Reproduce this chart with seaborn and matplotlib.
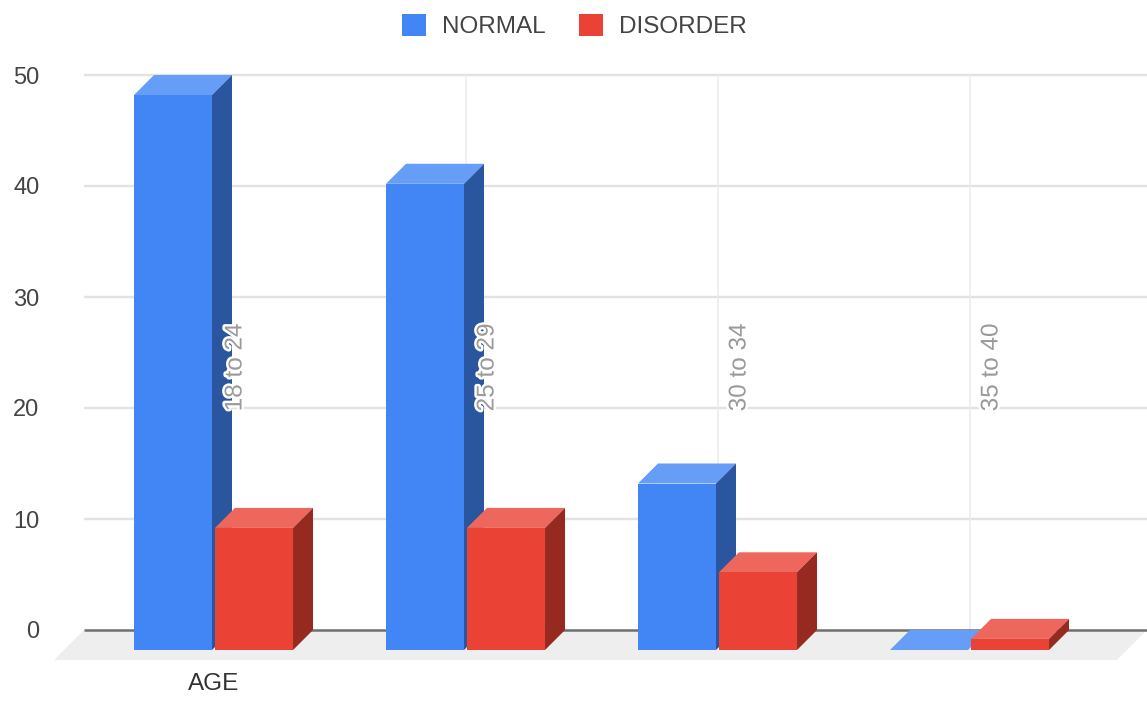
import matplotlib
matplotlib.use("Agg")
import matplotlib.pyplot as plt
import matplotlib.patheffects as pe
from matplotlib.patches import Polygon
import pandas as pd
import seaborn as sns

age_groups = ["18 to 24", "25 to 29", "30 to 34", "35 to 40"]
normal = [50, 42, 15, 0]
disorder = [11, 11, 7, 1]

W, H = 1147, 702
AX_LEFT, AX_TOP, AX_BOTTOM = 84, 75, 665
ZERO_Y = 630
UNIT_PX = (ZERO_Y - AX_TOP) / 50
CAT_PX = 252
CENTER0_PX = 213.5
DEPTH_PX = 20

DEPTH_X = DEPTH_PX / CAT_PX
DEPTH_Y = DEPTH_PX / UNIT_PX

COLORS = {"NORMAL": "#4285f4", "DISORDER": "#ea4335"}
TOPS = {"NORMAL": "#669df6", "DISORDER": "#ee675c"}
SIDES = {"NORMAL": "#2a56a0", "DISORDER": "#962a20"}

df = pd.DataFrame({
    "age": age_groups * 2,
    "count": normal + disorder,
    "group": ["NORMAL"] * len(normal) + ["DISORDER"] * len(disorder),
})

sns.set_theme(style="white")
plt.rcParams["font.family"] = ["Liberation Sans", "DejaVu Sans"]

fig = plt.figure(figsize=(W / 100, H / 100), dpi=100)
ax = fig.add_axes([AX_LEFT / W, (H - AX_BOTTOM) / H,
                   (W - AX_LEFT) / W, (AX_BOTTOM - AX_TOP) / H])

sns.barplot(data=df, x="age", y="count", hue="group", palette=COLORS,
            hue_order=["NORMAL", "DISORDER"], order=age_groups,
            width=0.643, gap=0.037, saturation=1, linewidth=0, ax=ax)

ax.set_xlim((AX_LEFT - CENTER0_PX) / CAT_PX, (W - CENTER0_PX) / CAT_PX)
ax.set_ylim(-(AX_BOTTOM - ZERO_Y) / UNIT_PX, 50)
ax.set_xlabel("")
ax.set_ylabel("")
sns.despine(ax=ax, left=True, bottom=True)

# top and side faces extruded from each front face;
# front faces sit one depth step below the back plane
n = len(age_groups)
bars = list(ax.patches)[:2 * n]
for i, patch in enumerate(bars):
    group = "NORMAL" if i < n else "DISORDER"
    patch.set_y(patch.get_y() - DEPTH_Y)
    x0, w = patch.get_x(), patch.get_width()
    y0, h = patch.get_y(), patch.get_height()
    x1, y1 = x0 + w, y0 + h
    z = 3 if group == "NORMAL" else 6
    patch.set_zorder(z + 1)
    ax.add_patch(Polygon([(x0, y1), (x1, y1), (x1 + DEPTH_X, y1 + DEPTH_Y), (x0 + DEPTH_X, y1 + DEPTH_Y)],
                         closed=True, fc=TOPS[group], ec="none", zorder=z, clip_on=False))
    if h > 0:
        ax.add_patch(Polygon([(x1, y0), (x1 + DEPTH_X, y0 + DEPTH_Y), (x1 + DEPTH_X, y1 + DEPTH_Y), (x1, y1)],
                             closed=True, fc=SIDES[group], ec="none", zorder=z, clip_on=False))

# grey floor under the bars
xl, xr = ax.get_xlim()
floor_drop = 30 / UNIT_PX
floor_shift = 30 / CAT_PX
ax.add_patch(Polygon([(xl, 0), (xr, 0), (xr - floor_shift, -floor_drop), (xl - floor_shift, -floor_drop)],
                     closed=True, fc="#eeeeee", ec="none", zorder=1, clip_on=False))

# gridlines on the back wall
ax.set_yticks([0, 10, 20, 30, 40, 50])
ax.yaxis.grid(False)
ax.hlines([10, 20, 30, 40, 50], xl, xr, color="#e2e2e2", lw=1.7, zorder=1, clip_on=False)
ax.hlines(0, xl, xr, color="#6f6f6f", lw=1.8, zorder=2)
ax.vlines([1, 2, 3], 0, 50, color="#ececec", lw=1.1, zorder=1)

ax.tick_params(axis="y", length=0, pad=32, labelsize=17, labelcolor="#444444")
ax.set_xticks([0])
ax.set_xticklabels(["AGE"], fontsize=17.5, color="#333333")
ax.tick_params(axis="x", length=0, pad=6)

# rotated category names on the back wall, with a white halo
halo = [pe.withStroke(linewidth=3.5, foreground="white")]
for i, label in enumerate(age_groups):
    ax.text(i + DEPTH_X + 0.008, 19.7, label, rotation=90, ha="center", va="bottom",
            fontsize=17.5, color="#9a9a9a", zorder=8, path_effects=halo)

sns.move_legend(ax, "upper center", bbox_to_anchor=((574.5 - AX_LEFT) / (W - AX_LEFT), 1 + 61 / (AX_BOTTOM - AX_TOP)),
                ncol=2, frameon=False, title=None, fontsize=17.5, labelcolor="#444444",
                handlelength=1.0, handleheight=1.0, handletextpad=0.67,
                columnspacing=1.35, borderpad=0, borderaxespad=0)

fig.savefig("out.png", dpi=100)
